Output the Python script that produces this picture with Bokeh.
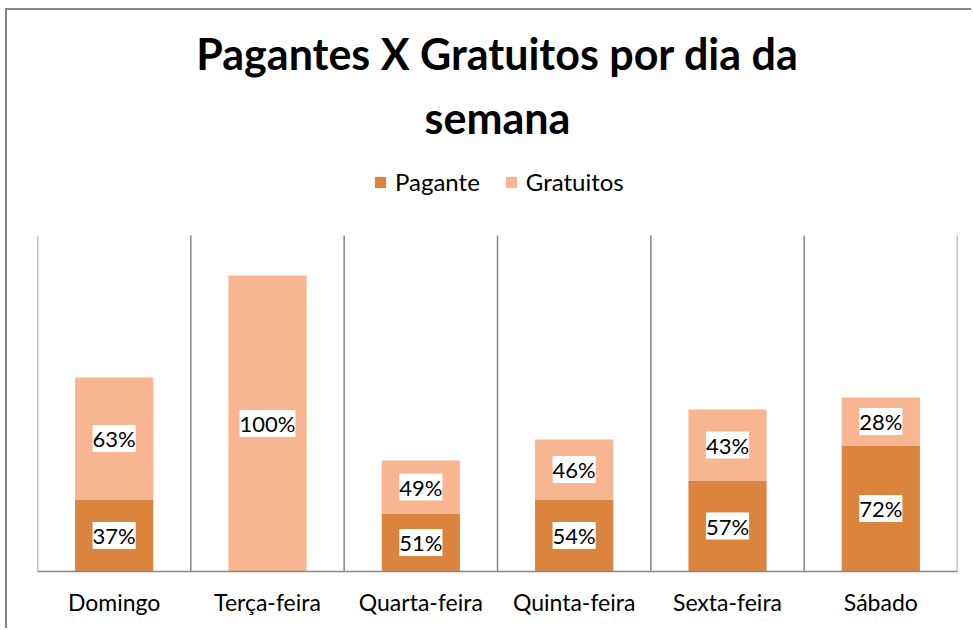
from bokeh.plotting import figure
from bokeh.models import Range1d, FixedTicker, Title, Legend, LegendItem, ColumnDataSource
from bokeh.core.properties import value
from bokeh.embed import file_html
from bokeh.resources import INLINE

days = ["Domingo", "Terça-feira", "Quarta-feira", "Quinta-feira", "Sexta-feira", "Sábado"]
pagante = [72, 0, 58, 72, 91, 126]
gratuitos = [122, 296, 53, 60, 71, 48]
pagante_labels = ["37%", "", "51%", "54%", "57%", "72%"]
gratuitos_labels = ["63%", "100%", "49%", "46%", "43%", "28%"]

C_PAG = "#DB843D"
C_GRA = "#F8B592"
GRID = "#868686"
FONT = "Lato"
Y_TOP = 336      # top of the value axis
Y_VIEW = 411     # visible range incl. room for the legend

n = len(days)
xs = [i + 0.5 for i in range(n)]
totals = [a + b for a, b in zip(pagante, gratuitos)]

p = figure(width=966, height=620, output_backend="svg", toolbar_location=None,
           x_range=Range1d(0, n), y_range=Range1d(0, Y_VIEW),
           min_border_left=30, min_border_right=16, min_border_bottom=59, min_border_top=150)
p.styles = {"margin-left": "5px", "margin-top": "8px",
            "border-left": "2px solid #868686", "border-top": "2px solid #868686"}
p.outline_line_color = None
p.background_fill_color = "white"
p.border_fill_color = "white"
p.xgrid.grid_line_color = None
p.ygrid.grid_line_color = None
p.yaxis.visible = False

# vertical category separators
bounds = list(range(n + 1))
p.segment(x0=bounds, x1=bounds, y0=[0] * len(bounds), y1=[Y_TOP] * len(bounds),
          line_color=GRID, line_width=1.5)

src = ColumnDataSource(dict(x=xs, pag=pagante, gra=gratuitos, tot=totals))
r1 = p.vbar(x="x", bottom=0, top="pag", width=0.51, source=src, fill_color=C_PAG, line_color=None)
r2 = p.vbar(x="x", bottom="pag", top="tot", width=0.51, source=src, fill_color=C_GRA, line_color=None)

# labels
lx, ly, lt = [], [], []
for i in range(n):
    if pagante_labels[i]:
        lx.append(xs[i]); ly.append(pagante[i] / 2); lt.append(pagante_labels[i])
    if gratuitos_labels[i]:
        lx.append(xs[i]); ly.append(pagante[i] + gratuitos[i] / 2); lt.append(gratuitos_labels[i])
p.text(x=lx, y=ly, text=lt, text_font=value(FONT), text_font_size="22px",
       text_align="center", text_baseline="middle", text_color="black",
       background_fill_color="white", padding=0)

ax = p.xaxis[0]
ax.ticker = FixedTicker(ticks=xs)
ax.major_label_overrides = {x: d for x, d in zip(xs, days)}
ax.axis_line_color = GRID
ax.axis_line_width = 1.5
ax.major_tick_line_color = None
ax.minor_tick_line_color = None
ax.major_label_standoff = 10
ax.major_label_text_font = FONT
ax.major_label_text_font_size = "23px"
ax.major_label_text_color = "black"

legend = Legend(items=[LegendItem(label="Pagante", renderers=[r1]),
                       LegendItem(label="Gratuitos", renderers=[r2])],
                orientation="horizontal", location=(336, 375),
                label_text_font=FONT, label_text_font_size="24px", label_text_color="black",
                glyph_width=14, glyph_height=14, spacing=24, label_standoff=8,
                padding=5, margin=0, border_line_color=None, background_fill_alpha=0)
p.add_layout(legend, "center")

t2 = Title(text="semana", align="center", text_font=FONT, text_font_size="43px",
           text_font_style="bold", standoff=35, text_color="black")
t1 = Title(text="Pagantes X Gratuitos por dia da", align="center", text_font=FONT,
           text_font_size="43px", text_font_style="bold", standoff=-12, text_color="black")
p.add_layout(t2, "above")
p.add_layout(t1, "above")

open("out.html", "w").write(file_html(p, INLINE))
